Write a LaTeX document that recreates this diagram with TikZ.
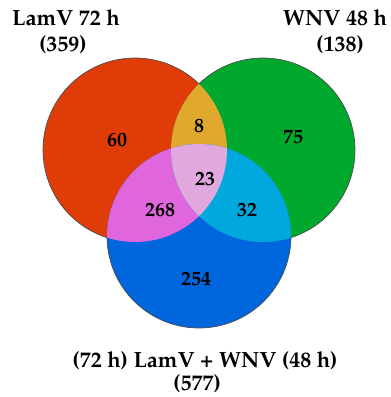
\documentclass[tikz,border=0pt]{standalone}
\usepackage[T1]{fontenc}
\renewcommand\rmdefault{ppl}
\begin{document}
\begin{tikzpicture}[x=1pt,y=1pt,
  setlabel/.style={font=\fontsize{22}{24}\selectfont\bfseries, inner sep=0pt, align=center},
  count/.style={font=\fontsize{20}{22}\selectfont\bfseries, inner sep=0pt},
  rim/.style={draw=black!70, line width=0.7pt}]
\definecolor{cLam}{RGB}{224,60,8}
\definecolor{cWnv}{RGB}{0,168,45}
\definecolor{cBoth}{RGB}{0,102,221}
\definecolor{cLW}{RGB}{224,168,45}
\definecolor{cLB}{RGB}{224,102,221}
\definecolor{cWB}{RGB}{0,168,221}
\definecolor{cAll}{RGB}{224,168,221}
\useasboundingbox (0,0) rectangle (391,397);
\def\rr{92}
\coordinate (L) at (135,247);
\coordinate (W) at (263,247);
\coordinate (B) at (199,161);
% single sets
\fill[cLam] (L) circle[radius=\rr];
\fill[cWnv] (W) circle[radius=\rr];
\fill[cBoth] (B) circle[radius=\rr];
% pairwise overlaps
\begin{scope}\clip (L) circle[radius=\rr]; \fill[cLW] (W) circle[radius=\rr];\end{scope}
\begin{scope}\clip (L) circle[radius=\rr]; \fill[cLB] (B) circle[radius=\rr];\end{scope}
\begin{scope}\clip (W) circle[radius=\rr]; \fill[cWB] (B) circle[radius=\rr];\end{scope}
% triple overlap
\begin{scope}\clip (L) circle[radius=\rr]; \clip (W) circle[radius=\rr]; \fill[cAll] (B) circle[radius=\rr];\end{scope}
% outer rims
\draw[rim] (L) ++(45.9:\rr) arc[start angle=45.9, end angle=252.3, radius=\rr];
\draw[rim] (W) ++(134.1:\rr) arc[start angle=134.1, end angle=-72.3, radius=\rr];
\draw[rim] (B) ++(181.1:\rr) arc[start angle=181.1, end angle=358.9, radius=\rr];
% counts
\node[count] (n60)  at (117,257) {60};
\node[count] (n8)   at (199,271) {8};
\node[count] (n75)  at (293,260) {75};
\node[count] (n23)  at (205,218) {23};
\node[count] (n268) at (160,187) {268};
\node[count] (n32)  at (247,187) {32};
\node[count] (n254) at (196,118) {254};
% set labels
\node[setlabel] (tL) at (66,379) {LamV 72 h};
\node[setlabel] (cL) at (63,352) {(359)};
\node[setlabel] (tW) at (335,379) {WNV 48 h};
\node[setlabel] (cW) at (340,352) {(138)};
\node[setlabel] (tB) at (205,36) {(72 h) LamV + WNV (48 h)};
\node[setlabel] (cB) at (197,13) {(577)};
\end{tikzpicture}
\end{document}
